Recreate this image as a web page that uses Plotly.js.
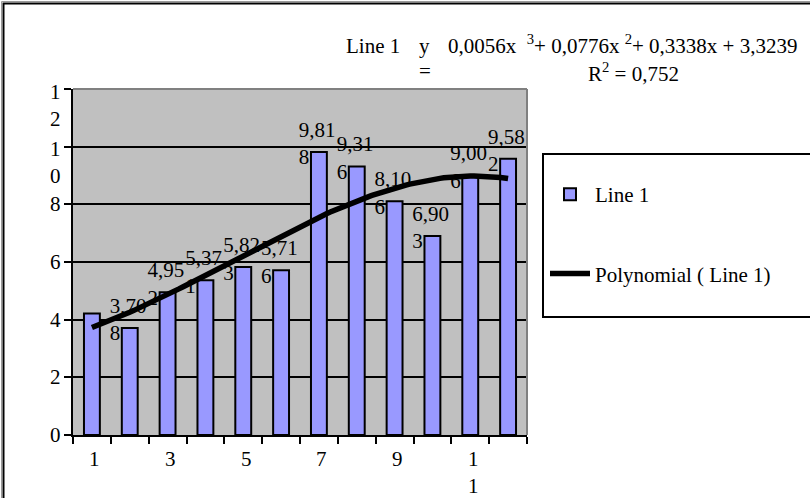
<!DOCTYPE html>
<html><head><meta charset="utf-8">
<script src="https://cdn.plot.ly/plotly-3.0.1.min.js"></script>
<style>html,body{margin:0;padding:0;background:#fff;}#chart{width:810px;height:498px;}</style>
</head><body><div id="chart"></div>
<script>
const categories = [1, 2, 3, 4, 5, 6, 7, 8, 9, 10, 11, 12];
const values = [4.214, 3.708, 4.952, 5.371, 5.823, 5.716, 9.818, 9.316, 8.106, 6.903, 9.006, 9.582];
const xTickVals = [1, 3, 5, 7, 9, 11];
const xTickText = ['1', '3', '5', '7', '9', '1<br>1'];
const yTickVals = [0, 2, 4, 6, 8, 10, 12];
const yTickText = ['0', '2', '4', '6', '8', '1<br>0', '1<br>2'];
const seriesName = 'Line 1';
const trendName = 'Polynomial ( Line 1)';
const eqSeries = 'Line 1';
const eqY = 'y';
const eqEquals = '=';
const eqBody = '0,0056x  <sup>3</sup>+ 0,0776x <sup>2</sup>+ 0,3338x + 3,3239';
const eqR2 = 'R<sup>2</sup> = 0,752';

// least-squares polynomial (cubic) trendline fitted to the bar values
function polyfit(xs, ys, deg) {
  const n = deg + 1;
  const A = [];
  for (let i = 0; i < n; i++) {
    A.push(new Array(n + 1).fill(0));
    for (let j = 0; j < n; j++) A[i][j] = xs.reduce((s, x) => s + Math.pow(x, i + j), 0);
    A[i][n] = xs.reduce((s, x, k) => s + ys[k] * Math.pow(x, i), 0);
  }
  for (let c = 0; c < n; c++) {
    let p = c;
    for (let r = c + 1; r < n; r++) if (Math.abs(A[r][c]) > Math.abs(A[p][c])) p = r;
    [A[c], A[p]] = [A[p], A[c]];
    for (let r = 0; r < n; r++) {
      if (r === c) continue;
      const f = A[r][c] / A[c][c];
      for (let k = c; k <= n; k++) A[r][k] -= f * A[c][k];
    }
  }
  return A.map((row, i) => row[n] / row[i]);
}
const coef = polyfit(categories, values, 3);
const trendX = [], trendY = [];
const xmin = categories[0], xmax = categories[categories.length - 1];
const steps = 110;
for (let i = 0; i <= steps; i++) {
  const t = xmin + (xmax - xmin) * i / steps;
  trendX.push(t);
  trendY.push(coef.reduce((s, c, k) => s + c * Math.pow(t, k), 0));
}
const labelText = values.map(v => {
  const s = v.toFixed(3).replace('.', ',');
  return s.slice(0, 4) + '<br>' + s.slice(4);
});

const FONT = "'Liberation Serif', 'Times New Roman', serif";
const L = 73, R = 527, T = 89, B = 435;
const fx = px => (px - L) / (R - L);
const fy = py => (B - py) / (B - T);

const traces = [
  {type: 'bar', x: categories, y: values, name: seriesName, legendgroup: 'a',
   marker: {color: '#9999FF', line: {color: '#000000', width: 2}}, hoverinfo: 'skip'},
  {type: 'scatter', mode: 'text', x: categories, y: values, text: labelText,
   textposition: 'middle right', xaxis: 'x2', yaxis: 'y2', showlegend: false,
   textfont: {family: FONT, size: 21, color: '#000'}, cliponaxis: false, hoverinfo: 'skip'},
  {type: 'scatter', mode: 'lines', x: trendX, y: trendY, name: trendName, legendgroup: 'b',
   line: {color: '#000000', width: 5.5}, hoverinfo: 'skip'}
];

const annotations = [];
yTickVals.forEach((v, i) => {
  const two = yTickText[i].indexOf('<br>') >= 0;
  annotations.push({xref: 'paper', yref: 'y', x: 0, y: v, xanchor: 'right', yanchor: 'middle',
    xshift: -10, yshift: two ? -16 : 0, text: yTickText[i], showarrow: false, align: 'right',
    font: {family: FONT, size: 21, color: '#000'}});
});
xTickVals.forEach((v, i) => {
  annotations.push({xref: 'x', yref: 'paper', x: v, y: 0, xanchor: 'center', yanchor: 'top',
    xshift: 3, yshift: -10, text: xTickText[i], showarrow: false,
    font: {family: FONT, size: 21, color: '#000'}});
});
const eqFont = {family: FONT, size: 21, color: '#000'};
annotations.push({xref: 'paper', yref: 'paper', x: fx(344), y: fy(46), xanchor: 'left', yanchor: 'middle', text: eqSeries, showarrow: false, font: eqFont});
annotations.push({xref: 'paper', yref: 'paper', x: fx(417), y: fy(46), xanchor: 'left', yanchor: 'middle', text: eqY, showarrow: false, font: eqFont});
annotations.push({xref: 'paper', yref: 'paper', x: fx(417), y: fy(71), xanchor: 'left', yanchor: 'middle', text: eqEquals, showarrow: false, font: eqFont});
annotations.push({xref: 'paper', yref: 'paper', x: fx(446), y: fy(45), xanchor: 'left', yanchor: 'middle', text: eqBody, showarrow: false, font: eqFont});
annotations.push({xref: 'paper', yref: 'paper', x: fx(586), y: fy(72), xanchor: 'left', yanchor: 'middle', text: eqR2, showarrow: false, font: eqFont});

const shapes = [
  {type: 'rect', xref: 'paper', yref: 'paper', x0: fx(1.5), y0: fy(1.5), x1: fx(900), y1: fy(600), line: {color: '#9a9a9a', width: 1}, layer: 'above'},
  {type: 'rect', xref: 'paper', yref: 'paper', x0: fx(3.5), y0: fy(3.5), x1: fx(900), y1: fy(600), line: {color: '#000', width: 2}, layer: 'above'},
  {type: 'rect', xref: 'paper', yref: 'paper', x0: fx(543), y0: fy(154), x1: fx(900), y1: fy(317), line: {color: '#000', width: 2}, layer: 'above'},
  {type: 'line', xref: 'paper', yref: 'paper', x0: 0, y0: 1, x1: 1, y1: 1, line: {color: '#808080', width: 2}, layer: 'above'},
  {type: 'line', xref: 'paper', yref: 'paper', x0: 1, y0: 0, x1: 1, y1: 1, line: {color: '#808080', width: 2}, layer: 'above'}
];

const layout = {
  width: 810, height: 498,
  margin: {l: L, r: 810 - R, t: T, b: 498 - B, pad: 0},
  paper_bgcolor: '#ffffff', plot_bgcolor: '#C0C0C0',
  font: {family: FONT, size: 21, color: '#000'},
  bargap: 0.58,
  showlegend: true,
  xaxis: {range: [0.5, 12.5], tickmode: 'linear', tick0: 0.5, dtick: 1, showticklabels: false,
    ticks: 'outside', ticklen: 7, tickwidth: 2, tickcolor: '#000', showline: true, linecolor: '#000',
    linewidth: 2, showgrid: false, zeroline: false, fixedrange: true},
  yaxis: {range: [0, 12], tickvals: yTickVals, showticklabels: false, ticks: 'outside', ticklen: 7,
    tickwidth: 2, tickcolor: '#000', showline: true, linecolor: '#000', linewidth: 2,
    showgrid: true, gridcolor: '#000', gridwidth: 1.8, zeroline: false, fixedrange: true},
  xaxis2: {overlaying: 'x', range: [0.5 + 0.53, 12.5 + 0.53], visible: false, fixedrange: true},
  yaxis2: {overlaying: 'y', range: [-0.225, 12 - 0.225], visible: false, fixedrange: true},
  legend: {x: fx(545), y: fy(174), xanchor: 'left', yanchor: 'top', bgcolor: 'rgba(0,0,0,0)',
    borderwidth: 0, font: {family: FONT, size: 21, color: '#000'}, tracegroupgap: 49,
    traceorder: 'grouped', itemwidth: 40},
  annotations: annotations,
  shapes: shapes
};
Plotly.newPlot('chart', traces, layout, {staticPlot: true, displayModeBar: false});
</script></body></html>
